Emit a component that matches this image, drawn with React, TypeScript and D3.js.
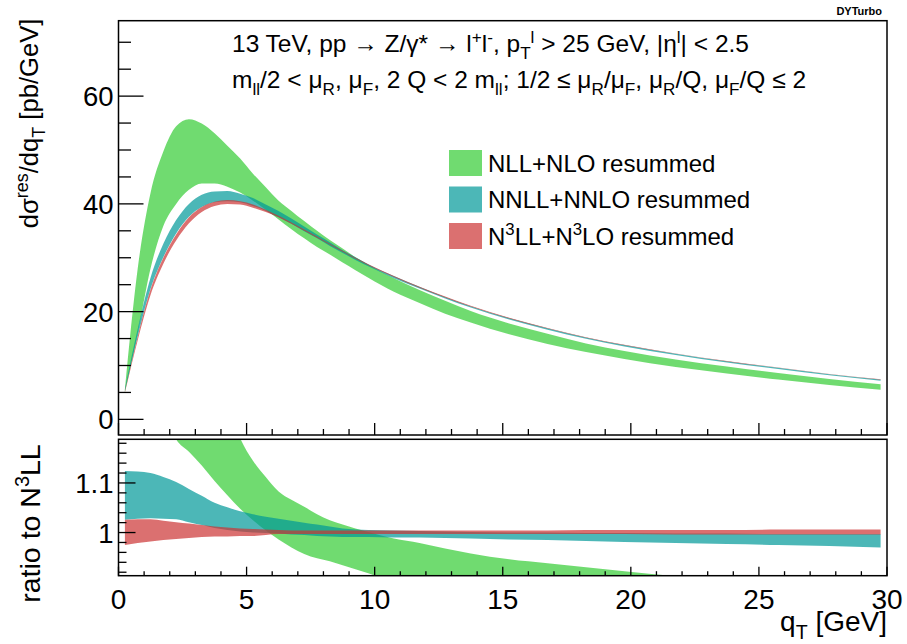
import React from 'react'
import * as d3 from 'd3'

// qT bin centres [GeV]
const qT = [
  0.25, 0.75, 1.25, 1.75, 2.25, 2.75, 3.25, 3.75, 4.25, 4.75, 5.25, 5.75, 6.25, 6.75, 7.25, 7.75, 8.25, 8.75,
  9.25, 9.75, 10.75, 11.75, 12.75, 13.75, 15.25, 16.75, 18.25, 19.75, 21.75, 23.75, 25.75, 27.75, 29.75,
]

// upper panel: dsigma/dqT [pb/GeV], band edges
const nllLo = [
  5.1, 16.0, 28.0, 35.9, 40.0, 42.6, 43.8, 43.8, 43.2, 42.1, 40.6, 38.9, 37.1, 35.3, 33.6, 32.0, 30.6, 29.1,
  27.7, 26.3, 23.7, 21.6, 19.6, 18.0, 15.8, 14.0, 12.5, 11.2, 9.7, 8.5, 7.4, 6.4, 5.5,
]
const nllHi = [
  5.6, 28.0, 42.0, 49.7, 54.4, 55.7, 54.9, 53.1, 50.8, 48.4, 45.6, 43.1, 40.6, 38.7, 36.8, 35.0, 33.3, 31.7,
  30.1, 28.7, 26.2, 24.0, 22.0, 20.1, 17.8, 15.9, 14.1, 12.7, 11.1, 9.8, 8.6, 7.5, 6.5,
]
const nnllLo = [
  5.2, 15.4, 24.2, 30.1, 34.5, 37.6, 39.4, 40.3, 40.5, 40.3, 39.6, 38.7, 37.5, 36.3, 34.9, 33.6, 32.2, 30.9,
  29.6, 28.4, 26.2, 24.3, 22.45, 20.75, 18.55, 16.65, 14.95, 13.55, 11.95, 10.55, 9.36, 8.17, 7.18,
]
const nnllHi = [
  5.7, 16.8, 26.3, 32.6, 37.0, 40.0, 41.7, 42.3, 42.4, 41.9, 41.1, 39.9, 38.7, 37.3, 35.8, 34.3, 32.9, 31.4,
  30.1, 28.8, 26.6, 24.6, 22.7, 21.0, 18.8, 16.9, 15.2, 13.8, 12.2, 10.8, 9.57, 8.37, 7.38,
]
const n3llLo = [
  4.97, 14.7, 23.1, 28.9, 33.2, 36.4, 38.5, 39.6, 40.0, 39.9, 39.3, 38.5, 37.5, 36.3, 35.0, 33.7, 32.4, 31.1,
  29.8, 28.6, 26.42, 24.43, 22.63, 20.94, 18.74, 16.85, 15.15, 13.76, 12.16, 10.76, 9.57, 8.37, 7.37,
]
const n3llHi = [
  5.23, 15.4, 24.1, 30.0, 34.3, 37.5, 39.4, 40.4, 40.7, 40.5, 39.9, 38.9, 37.8, 36.55, 35.25, 33.95, 32.6, 31.3,
  30.0, 28.8, 26.6, 24.6, 22.8, 21.08, 18.88, 16.97, 15.26, 13.86, 12.25, 10.85, 9.65, 8.44, 7.44,
]

// lower panel: ratio to N3LL
const rNllLo = [
  1.3, 1.3, 1.3, 1.25, 1.188, 1.163, 1.135, 1.104, 1.075, 1.048, 1.025, 1.004, 0.986, 0.97, 0.957, 0.948, 0.942,
  0.934, 0.926, 0.918, 0.897, 0.88, 0.865, 0.855, 0.84, 0.83, 0.82, 0.81, 0.795, 0.785, 0.775, 0.765, 0.755,
]
const rNllHi = [
  1.6, 1.9, 1.8, 1.7, 1.62, 1.51, 1.41, 1.33, 1.26, 1.19, 1.145, 1.112, 1.083, 1.066, 1.052, 1.037, 1.025, 1.016,
  1.008, 1.001, 0.988, 0.979, 0.968, 0.958, 0.946, 0.938, 0.93, 0.922, 0.912, 0.903, 0.895, 0.888, 0.88,
]
const rNnllLo = [
  1.026, 1.028, 1.029, 1.028, 1.027, 1.021, 1.015, 1.009, 1.005, 1.002, 1.0, 0.999, 0.998, 0.996, 0.995, 0.993,
  0.992, 0.991, 0.991, 0.991, 0.99, 0.99, 0.989, 0.988, 0.986, 0.985, 0.983, 0.981, 0.979, 0.977, 0.975, 0.973, 0.97,
]
const rNnllHi = [
  1.124, 1.123, 1.12, 1.112, 1.102, 1.088, 1.074, 1.06, 1.051, 1.043, 1.037, 1.032, 1.028, 1.024, 1.02, 1.016,
  1.012, 1.008, 1.006, 1.005, 1.004, 1.003, 1.002, 1.001, 1.0, 1.0, 0.999, 0.999, 0.998, 0.998, 0.997, 0.997, 0.997,
]
const rN3llLo = [
  0.975, 0.979, 0.982, 0.985, 0.987, 0.989, 0.991, 0.992, 0.992, 0.993, 0.993, 0.995, 0.997, 0.997, 0.997, 0.997,
  0.997, 0.997, 0.997, 0.997, 0.997, 0.997, 0.997, 0.997, 0.997, 0.997, 0.997, 0.997, 0.996, 0.996, 0.996, 0.996, 0.996,
]
const rN3llHi = [
  1.026, 1.027, 1.027, 1.024, 1.021, 1.018, 1.015, 1.012, 1.01, 1.008, 1.007, 1.006, 1.005, 1.004, 1.004, 1.004,
  1.004, 1.004, 1.004, 1.004, 1.004, 1.004, 1.004, 1.004, 1.004, 1.004, 1.005, 1.005, 1.005, 1.005, 1.006, 1.006, 1.006,
]

const topLabels = [0, 20, 40, 60]
const ratioLabels = [1, 1.1]
const xLabels = [0, 5, 10, 15, 20, 25, 30]

const colors = ['rgb(51,204,51)', 'rgb(0,153,153)', 'rgb(204,51,51)']

type Seg = { t: string; s?: 'sub' | 'sup'; back?: number }

const SANS = "'Liberation Sans', Arial, Helvetica, sans-serif"

// tiny TLatex-ish text: sub/superscripts via tspans
const Rich = ({ segs, x, y, size, anchor = 'start', transform }: any) => {
  let shift = 0
  return (
    <text x={x} y={y} fontSize={size} fontFamily={SANS} textAnchor={anchor} transform={transform}>
      {(segs as Seg[]).map((s, i) => {
        const target = s.s === 'sub' ? size * 0.28 : s.s === 'sup' ? -size * 0.38 : 0
        const dy = target - shift
        shift = target
        return (
          <tspan key={i} dy={dy} dx={s.back ? -s.back : 0} fontSize={s.s ? size * 0.7 : size}>
            {s.t}
          </tspan>
        )
      })}
    </text>
  )
}

const title1: Seg[] = [
  { t: '13 TeV, pp \u2192 Z/\u03b3* \u2192 l' }, { t: '+', s: 'sup' }, { t: 'l' }, { t: '-', s: 'sup' },
  { t: ', p' }, { t: 'T', s: 'sub' }, { t: 'l', s: 'sup' }, { t: ' > 25 GeV, |\u03b7' }, { t: 'l', s: 'sup' },
  { t: '| < 2.5' },
]
const title2: Seg[] = [
  { t: 'm' }, { t: 'll', s: 'sub' }, { t: '/2 < \u03bc' }, { t: 'R', s: 'sub' }, { t: ', \u03bc' }, { t: 'F', s: 'sub' },
  { t: ', 2 Q < 2 m' }, { t: 'll', s: 'sub' }, { t: '; 1/2 \u2264 \u03bc' }, { t: 'R', s: 'sub' }, { t: '/\u03bc' },
  { t: 'F', s: 'sub' }, { t: ', \u03bc' }, { t: 'R', s: 'sub' }, { t: '/Q, \u03bc' }, { t: 'F', s: 'sub' }, { t: '/Q \u2264 2' },
]
const legendItems: Seg[][] = [
  [{ t: 'NLL+NLO resummed' }],
  [{ t: 'NNLL+NNLO resummed' }],
  [{ t: 'N' }, { t: '3', s: 'sup' }, { t: 'LL+N' }, { t: '3', s: 'sup' }, { t: 'LO resummed' }],
]

export default function App() {
  const X0 = 118.5
  const X1 = 887
  const top = { y0: 20.7, y1: 435 }
  const bot = { y0: 439.3, y1: 575.7 }

  const x = d3.scaleLinear().domain([0, 30]).range([X0, X1])
  const yTop = d3.scaleLinear().domain([-2.9, 74]).range([top.y1, top.y0])
  const yRat = d3.scaleLinear().domain([0.913, 1.188]).range([bot.y1, bot.y0])

  const band = (y: d3.ScaleLinear<number, number>, lo: number[], hi: number[]) =>
    d3
      .area<number>()
      .x((i) => x(qT[i]))
      .y0((i) => y(lo[i]))
      .y1((i) => y(hi[i]))
      .curve(d3.curveMonotoneX)(d3.range(qT.length)) as string

  const topBands = [
    [nllLo, nllHi],
    [nnllLo, nnllHi],
    [n3llLo, n3llHi],
  ]
  const ratBands = [
    [rNllLo, rNllHi],
    [rNnllLo, rNnllHi],
    [rN3llLo, rN3llHi],
  ]

  const xMinor = d3.range(0, 31, 1)
  const topMinor = d3.range(0, 75, 5)
  const ratMinor = d3.range(0.92, 1.19, 0.02)

  return (
    <div>
      <style>{'body{margin:0}'}</style>
      <svg width={907} height={644} style={{ display: 'block', background: '#fff' }}>
        <defs>
          <clipPath id="clipTop">
            <rect x={X0} y={top.y0} width={X1 - X0} height={top.y1 - top.y0} />
          </clipPath>
          <clipPath id="clipBot">
            <rect x={X0} y={bot.y0} width={X1 - X0} height={bot.y1 - bot.y0} />
          </clipPath>
        </defs>

        {/* bands */}
        <g clipPath="url(#clipTop)">
          {topBands.map(([lo, hi], k) => (
            <path key={k} d={band(yTop, lo, hi)} fill={colors[k]} fillOpacity={0.7} />
          ))}
        </g>
        <g clipPath="url(#clipBot)">
          {ratBands.map(([lo, hi], k) => (
            <path key={k} d={band(yRat, lo, hi)} fill={colors[k]} fillOpacity={0.7} />
          ))}
        </g>

        {/* frames */}
        <rect x={X0} y={top.y0} width={X1 - X0} height={top.y1 - top.y0} fill="none" stroke="#000" strokeWidth={1.5} />
        <rect x={X0} y={bot.y0} width={X1 - X0} height={bot.y1 - bot.y0} fill="none" stroke="#000" strokeWidth={1.5} />

        {/* upper y ticks */}
        {topMinor.map((v) => {
          const major = v % 20 === 0
          return (
            <line key={v} x1={X0} x2={X0 + (major ? 25 : 12.5)} y1={yTop(v)} y2={yTop(v)} stroke="#000" strokeWidth={1.3} />
          )
        })}
        {topLabels.map((v) => (
          <text key={v} x={X0 - 5} y={yTop(v) + 10} fontSize={27.5} fontFamily={SANS} textAnchor="end">
            {v}
          </text>
        ))}

        {/* x ticks on both panels */}
        {xMinor.map((v) => {
          const major = v % 5 === 0
          return (
            <g key={v} stroke="#000" strokeWidth={1.3}>
              <line x1={x(v)} x2={x(v)} y1={top.y1} y2={top.y1 - (major ? 12 : 6)} />
              <line x1={x(v)} x2={x(v)} y1={bot.y1} y2={bot.y1 - (major ? 9 : 4.5)} />
            </g>
          )
        })}
        {xLabels.map((v) => (
          <text key={v} x={x(v)} y={bot.y1 + 33} fontSize={28} fontFamily={SANS} textAnchor="middle">
            {v}
          </text>
        ))}

        {/* ratio y ticks */}
        {ratMinor.map((v) => {
          const major = Math.abs(v - 1) < 1e-6 || Math.abs(v - 1.1) < 1e-6
          return (
            <line key={v} x1={X0} x2={X0 + (major ? 17 : 8)} y1={yRat(v)} y2={yRat(v)} stroke="#000" strokeWidth={1.3} />
          )
        })}
        {ratioLabels.map((v) => (
          <text key={v} x={X0 - 5} y={yRat(v) + 10} fontSize={27.5} fontFamily={SANS} textAnchor="end">
            {v}
          </text>
        ))}

        {/* axis titles */}
        <Rich
          segs={[{ t: 'd\u03c3' }, { t: 'res', s: 'sup' }, { t: '/dq' }, { t: 'T', s: 'sub' }, { t: ' [pb/GeV]' }]}
          x={-top.y0 + 2}
          y={38}
          size={25.6}
          anchor="end"
          transform="rotate(-90)"
        />
        <Rich
          segs={[{ t: 'ratio to N' }, { t: '3', s: 'sup' }, { t: 'LL' }]}
          x={-bot.y0 - 5}
          y={40}
          size={28.5}
          anchor="end"
          transform="rotate(-90)"
        />
        <Rich segs={[{ t: 'q' }, { t: 'T', s: 'sub' }, { t: ' [GeV]' }]} x={X1} y={631} size={28} anchor="end" />

        {/* header */}
        <Rich segs={title1} x={232} y={52} size={24.5} />
        <Rich segs={title2} x={232} y={88} size={24.5} />
        <text x={882} y={15} fontSize={11} fontWeight="bold" fontFamily={SANS} textAnchor="end">
          DYTurbo
        </text>

        {/* legend */}
        {legendItems.map((segs, k) => {
          const cy = 163 + k * 36.5
          return (
            <g key={k}>
              <rect x={449} y={cy - 13} width={33} height={26} fill={colors[k]} fillOpacity={0.7} />
              <Rich segs={segs} x={488} y={cy + 8.5} size={24} />
            </g>
          )
        })}
      </svg>
    </div>
  )
}
